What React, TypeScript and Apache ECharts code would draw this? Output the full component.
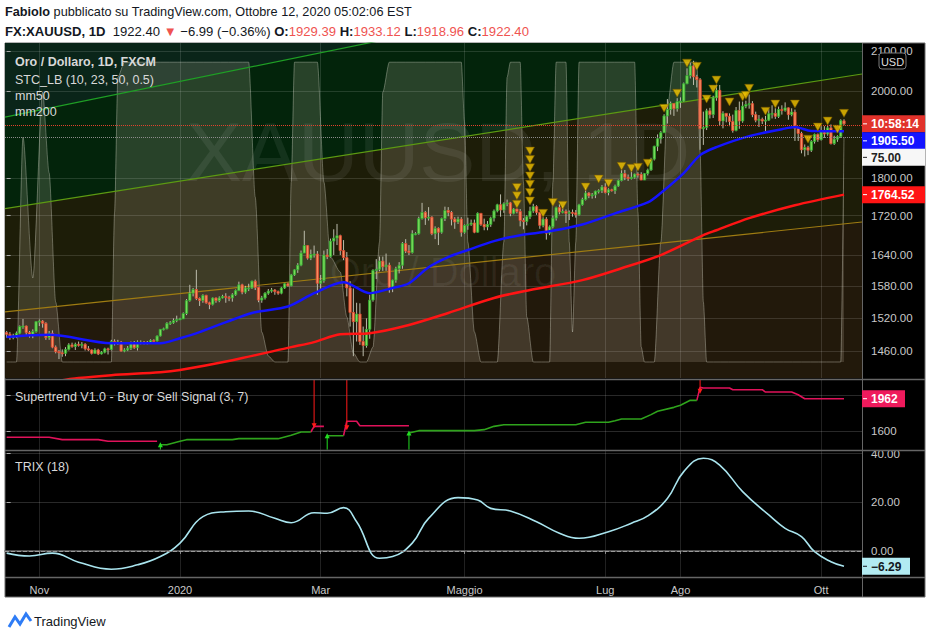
import React, { useEffect, useRef } from "react";
import * as echarts from "echarts";

// ---------- axes / ticks ----------
const monthTickIdx = [10, 53, 96, 140, 183, 206, 249];
const monthLabels = ["Nov", "2020", "Mar", "Maggio", "Lug", "Ago", "Ott"];
const priceTicks = [1460, 1520, 1580, 1640, 1720, 1800, 2000, 2100];
const priceRange = [1413.2, 2120.1];
const stcRange = [-5.34, 106.4];
const stRange = [1392, 2170];
const stGridTicks = [1600, 2000];
const stLabelTicks = [1600];
const trixRange = [-10.7, 41.07];
const trixGridTicks = [20, 40];
const trixLabelTicks = [0, 20, 40];

// ---------- daily candles [open, close, low, high], 18 Oct 2019 -> 12 Oct 2020 ----------
const ohlc: number[][] = [
  [1493, 1490, 1484, 1496], [1490, 1484, 1480, 1494], [1484, 1487, 1481, 1491], [1487, 1492, 1483, 1495],
  [1492, 1504, 1490, 1506], [1504, 1505, 1500, 1518], [1505, 1493, 1487, 1506], [1493, 1488, 1484, 1496],
  [1488, 1495, 1483, 1499], [1495, 1513, 1493, 1514], [1513, 1514, 1505, 1517], [1514, 1510, 1502, 1516],
  [1510, 1484, 1480, 1512], [1484, 1492, 1480, 1496], [1492, 1467, 1465, 1497], [1467, 1459, 1456, 1470],
  [1459, 1457, 1446, 1462], [1457, 1456, 1450, 1463], [1456, 1463, 1451, 1467], [1463, 1471, 1461, 1474],
  [1471, 1468, 1466, 1475], [1468, 1472, 1462, 1475], [1472, 1471, 1468, 1477], [1471, 1472, 1465, 1476],
  [1472, 1464, 1461, 1474], [1464, 1462, 1460, 1469], [1462, 1456, 1454, 1463], [1456, 1462, 1455, 1465],
  [1462, 1455, 1453, 1464], [1455, 1458, 1454, 1460], [1458, 1464, 1456, 1466], [1464, 1463, 1454, 1466],
  [1463, 1477, 1461, 1480], [1477, 1474, 1470, 1481], [1474, 1476, 1471, 1480], [1476, 1460, 1459, 1478],
  [1460, 1462, 1458, 1465], [1462, 1465, 1460, 1469], [1465, 1475, 1462, 1477], [1475, 1466, 1464, 1478],
  [1466, 1476, 1461, 1479], [1476, 1476, 1472, 1479], [1476, 1475, 1472, 1478], [1475, 1475, 1472, 1478],
  [1475, 1479, 1473, 1481], [1479, 1478, 1474, 1481], [1478, 1487, 1477, 1488], [1487, 1499, 1486, 1499],
  [1499, 1500, 1497, 1502], [1500, 1510, 1499, 1512], [1510, 1511, 1507, 1514], [1511, 1515, 1509, 1519],
  [1515, 1517, 1512, 1524], [1517, 1518, 1516, 1520], [1518, 1528, 1518, 1530], [1528, 1552, 1525, 1555],
  [1552, 1566, 1550, 1582], [1566, 1573, 1560, 1576], [1573, 1556, 1553, 1611], [1556, 1552, 1542, 1558],
  [1552, 1562, 1548, 1564], [1562, 1548, 1546, 1563], [1548, 1545, 1536, 1550], [1545, 1557, 1543, 1558],
  [1557, 1552, 1548, 1558], [1552, 1557, 1549, 1560], [1557, 1560, 1556, 1563], [1560, 1558, 1548, 1566],
  [1558, 1557, 1551, 1561], [1557, 1563, 1550, 1566], [1563, 1571, 1561, 1573], [1571, 1582, 1570, 1588],
  [1582, 1568, 1564, 1584], [1568, 1576, 1565, 1580], [1576, 1576, 1570, 1584], [1576, 1589, 1574, 1590],
  [1589, 1577, 1572, 1592], [1577, 1553, 1549, 1578], [1553, 1557, 1548, 1561], [1557, 1566, 1554, 1568],
  [1566, 1570, 1563, 1574], [1570, 1572, 1567, 1576], [1572, 1569, 1563, 1574], [1569, 1566, 1563, 1571],
  [1566, 1576, 1564, 1578], [1576, 1584, 1574, 1585], [1584, 1580, 1578, 1586], [1580, 1601, 1579, 1603],
  [1601, 1611, 1599, 1612], [1611, 1620, 1605, 1624], [1620, 1644, 1618, 1649], [1644, 1659, 1644, 1689],
  [1659, 1634, 1631, 1660], [1634, 1641, 1630, 1651], [1641, 1642, 1635, 1659], [1642, 1585, 1563, 1648],
  [1585, 1590, 1575, 1601], [1590, 1640, 1586, 1649], [1640, 1637, 1632, 1652], [1637, 1668, 1635, 1673],
  [1668, 1674, 1640, 1692], [1674, 1679, 1660, 1703], [1679, 1649, 1640, 1681], [1649, 1635, 1630, 1670],
  [1635, 1576, 1560, 1646], [1576, 1530, 1504, 1589], [1530, 1513, 1451, 1575], [1513, 1527, 1477, 1548],
  [1527, 1477, 1471, 1547], [1477, 1470, 1451, 1504], [1470, 1499, 1466, 1519], [1499, 1553, 1482, 1563],
  [1553, 1610, 1550, 1612], [1610, 1612, 1593, 1632], [1612, 1628, 1608, 1637], [1628, 1617, 1609, 1637],
  [1617, 1620, 1609, 1643], [1620, 1577, 1567, 1625], [1577, 1591, 1568, 1592], [1591, 1613, 1586, 1617],
  [1613, 1620, 1604, 1626], [1620, 1663, 1613, 1666], [1663, 1648, 1644, 1672], [1648, 1645, 1640, 1660],
  [1645, 1683, 1643, 1690], [1683, 1683, 1680, 1686], [1683, 1714, 1681, 1718], [1714, 1727, 1712, 1747],
  [1727, 1716, 1701, 1730], [1716, 1717, 1710, 1738], [1717, 1683, 1680, 1719], [1683, 1694, 1672, 1698],
  [1694, 1686, 1660, 1696], [1686, 1714, 1683, 1716], [1714, 1731, 1709, 1739], [1731, 1727, 1719, 1738],
  [1727, 1713, 1700, 1730], [1713, 1707, 1693, 1717], [1707, 1713, 1703, 1718], [1713, 1686, 1677, 1717],
  [1686, 1700, 1683, 1702], [1700, 1702, 1691, 1716], [1702, 1705, 1699, 1712], [1705, 1686, 1684, 1712],
  [1686, 1725, 1685, 1727], [1725, 1702, 1699, 1723], [1702, 1697, 1690, 1714], [1697, 1702, 1690, 1709],
  [1702, 1715, 1697, 1718], [1715, 1730, 1708, 1733], [1730, 1743, 1727, 1745], [1743, 1732, 1718, 1765],
  [1732, 1745, 1726, 1748], [1745, 1747, 1740, 1754], [1747, 1725, 1719, 1749], [1725, 1734, 1723, 1736],
  [1734, 1729, 1725, 1735], [1729, 1710, 1698, 1734], [1710, 1708, 1692, 1715], [1708, 1718, 1700, 1721],
  [1718, 1730, 1713, 1739], [1730, 1739, 1726, 1745], [1739, 1727, 1722, 1742], [1727, 1700, 1693, 1728],
  [1700, 1713, 1696, 1717], [1713, 1684, 1671, 1717], [1684, 1697, 1680, 1700], [1697, 1715, 1694, 1720],
  [1715, 1737, 1710, 1739], [1737, 1728, 1723, 1744], [1728, 1729, 1725, 1740], [1729, 1725, 1705, 1733],
  [1725, 1727, 1711, 1731], [1727, 1726, 1718, 1733], [1726, 1722, 1716, 1732], [1722, 1743, 1720, 1745],
  [1743, 1754, 1741, 1758], [1754, 1768, 1752, 1779], [1768, 1762, 1757, 1770], [1762, 1764, 1756, 1768],
  [1764, 1772, 1757, 1773], [1772, 1773, 1767, 1776], [1773, 1781, 1768, 1785], [1781, 1769, 1767, 1789],
  [1769, 1775, 1763, 1778], [1775, 1773, 1771, 1777], [1773, 1783, 1766, 1786], [1783, 1795, 1781, 1797],
  [1795, 1810, 1793, 1818], [1810, 1802, 1796, 1818], [1802, 1799, 1794, 1808], [1799, 1802, 1797, 1817],
  [1802, 1809, 1799, 1810], [1809, 1808, 1801, 1813], [1808, 1796, 1796, 1813], [1796, 1810, 1797, 1811],
  [1810, 1818, 1806, 1821], [1818, 1842, 1816, 1845], [1842, 1871, 1839, 1872], [1871, 1888, 1860, 1898],
  [1888, 1902, 1877, 1906], [1902, 1941, 1901, 1945], [1941, 1956, 1923, 1981], [1956, 1970, 1944, 1975],
  [1970, 1958, 1941, 1970], [1958, 1975, 1951, 1983], [1975, 1976, 1960, 1985], [1976, 2018, 1974, 2021],
  [2018, 2038, 2017, 2056], [2038, 2062, 2031, 2070], [2062, 2035, 2015, 2075], [2035, 2028, 2009, 2040],
  [2028, 1911, 1863, 2032], [1911, 1914, 1874, 1951], [1914, 1953, 1908, 1958], [1953, 1944, 1935, 1960],
  [1944, 1984, 1936, 1989], [1984, 2002, 1977, 2016], [2002, 1929, 1919, 2015], [1929, 1947, 1912, 1952],
  [1947, 1940, 1926, 1947], [1940, 1928, 1917, 1947], [1928, 1907, 1902, 1944], [1907, 1954, 1905, 1962],
  [1954, 1929, 1911, 1975], [1929, 1964, 1925, 1975], [1964, 1968, 1959, 1977], [1968, 1970, 1958, 1992],
  [1970, 1944, 1938, 1976], [1944, 1931, 1926, 1951], [1931, 1933, 1915, 1943], [1933, 1929, 1922, 1937],
  [1929, 1931, 1906, 1941], [1931, 1946, 1929, 1957], [1946, 1947, 1935, 1966], [1947, 1940, 1934, 1959],
  [1940, 1956, 1936, 1963], [1956, 1954, 1944, 1966], [1954, 1960, 1951, 1973], [1960, 1944, 1932, 1961],
  [1944, 1950, 1940, 1959], [1950, 1912, 1883, 1956], [1912, 1900, 1883, 1913], [1900, 1863, 1855, 1904],
  [1863, 1868, 1848, 1875], [1868, 1862, 1851, 1872], [1862, 1882, 1858, 1885], [1882, 1898, 1877, 1900],
  [1898, 1886, 1881, 1900], [1886, 1906, 1884, 1917], [1906, 1899, 1890, 1917], [1899, 1913, 1895, 1919],
  [1913, 1877, 1875, 1921], [1877, 1887, 1874, 1895], [1887, 1893, 1881, 1896], [1893, 1930, 1890, 1933],
  [1929.39, 1922.4, 1918.96, 1933.12],
];

// ---------- moving averages [barIndex, price] ----------
const mm50: number[][] = [
  [0, 1485], [13, 1489], [32, 1474], [47, 1474], [53, 1483], [59, 1494], [75, 1529], [86, 1541],
  [94, 1566], [103, 1587], [111, 1566], [118, 1576], [123, 1585], [129, 1616], [135, 1636], [141, 1650],
  [149, 1668], [157, 1680], [166, 1688], [176, 1702], [186, 1725], [196, 1748], [200, 1768], [207, 1811],
  [212, 1851], [217, 1869], [227, 1894], [237, 1910], [241, 1915], [246, 1906], [256, 1905.5],
];
const mm200: number[][] = [
  [0, 1398], [10, 1404], [22, 1413], [32, 1418], [47, 1423], [53, 1427], [69, 1444], [87, 1467],
  [94, 1476], [102, 1490], [111, 1492], [123, 1507], [135, 1529], [149, 1557], [160, 1572], [176, 1591],
  [188, 1614], [200, 1640], [213, 1680], [217, 1690], [227, 1715], [241, 1742], [256, 1764.52],
];

// ---------- trend lines [barIndex, price] ----------
const trendUpper: number[][] = [[-0.5, 1938], [261.5, 2395]];
const trendMiddle: number[][] = [[-0.5, 1735], [261.5, 2042]];
const trendLower: number[][] = [[-0.5, 1531], [261.5, 1707]];

// ---------- STC oscillator (0..100) ----------
const stc: number[][] = [
  [0, 0], [3, 0], [5, 75], [8, 28], [11, 90], [13, 63], [15, 20], [17, 0], [32, 0], [33, 50], [34, 95],
  [36, 100], [74, 100], [76, 55], [78, 10], [80, 2], [82, 0], [86, 0], [87, 60], [88, 100], [95, 100],
  [97, 60], [99, 35], [102, 30], [104, 15], [106, 3], [108, 0], [110, 0], [112, 5], [114, 40], [115, 90],
  [117, 100], [139, 100], [140, 80], [141, 40], [143, 10], [145, 0], [150, 0], [152, 40], [153, 95],
  [154, 100], [157, 100], [158, 60], [159, 15], [161, 0], [166, 0], [167, 60], [168, 100], [171, 100],
  [172, 40], [173, 10], [174, 40], [175, 100], [192, 100], [193, 50], [194, 5], [195, 0], [198, 0],
  [200, 40], [202, 85], [204, 100], [211, 100], [212, 70], [213, 20], [214, 0], [255, 0], [256, 75],
];
const stcLast = 75;

// ---------- STC signal triangles [barIndex, price] ----------
const signals: number[][] = [
  [156, 1744], [156, 1762], [156, 1780], [160, 1751], [160, 1769], [160, 1787], [160, 1805], [160, 1823],
  [160, 1841], [160, 1860], [164, 1725], [167, 1748], [170, 1742], [177, 1781], [181, 1798], [184, 1789],
  [188, 1826], [191, 1822], [193, 1824], [196, 1833], [201, 1959], [205, 1995], [208, 2069], [211, 2061],
  [214, 1981], [216, 2005], [217, 2027], [221, 1974], [225, 1986], [226, 1990], [227, 2007], [232, 1952],
  [235, 1969], [241, 1969], [245, 1887], [248, 1915], [251, 1929], [254, 1910], [256, 1947],
];

// ---------- Supertrend segments [barIndex, price] ----------
const stRedSegments: number[][][] = [
  [[0, 1533], [13, 1533], [17, 1507], [28, 1507], [31, 1489], [46, 1489]],
  [[93, 1592], [94, 1655], [97, 1655]],
  [[103, 1551], [104, 1711], [107, 1711], [108, 1662], [123, 1662]],
  [[211, 1944], [212, 2088], [213, 2081], [221, 2081], [222, 2062], [231, 2062], [232, 2036], [240, 2036],
    [242, 2006], [244, 1962], [256, 1962]],
];
const stGreenSegments: number[][][] = [
  [[47, 1451], [49, 1451], [53, 1489], [55, 1507], [69, 1507], [71, 1518], [83, 1518], [87, 1556],
    [90, 1592], [93, 1592]],
  [[98, 1551], [103, 1551]],
  [[123, 1581], [126, 1607], [143, 1607], [146, 1618], [149, 1655], [152, 1673], [174, 1673], [177, 1700],
    [184, 1700], [186, 1718], [188, 1737], [194, 1737], [197, 1785], [199, 1822], [204, 1866], [206, 1889],
    [209, 1944], [211, 1944]],
];
// [barIndex, from, to]
const stSellArrows: number[][] = [[94, 2170, 1662], [104, 2170, 1640], [212, 2170, 2045]];
const stBuyArrows: number[][] = [[47, 1396, 1451], [98, 1396, 1551], [123, 1396, 1581]];

// ---------- TRIX(18) ----------
const trix: number[][] = [
  [0, -0.9], [7, -2.1], [14, -0.9], [22, -4.6], [32, -7.5], [40, -5.7], [47, -2.3], [53, 3.2], [60, 14.1],
  [67, 16.1], [74, 16.4], [82, 13.4], [87, 11.6], [94, 15.7], [98, 15.5], [103, 17.8], [107, 12.0],
  [114, -3.0], [118, -2.3], [124, 3.2], [129, 13.4], [138, 21.9], [144, 20.9], [148, 17.5], [154, 16.4],
  [162, 12.0], [169, 7.3], [175, 5.2], [184, 7.9], [191, 11.4], [196, 14.4], [202, 21.6], [207, 32.6],
  [213, 38.1], [218, 35.3], [225, 24.4], [233, 14.8], [238, 9.3], [243, 5.9], [247, -0.3], [252, -4.4],
  [256, -6.29],
];

const lastPrice = 1922.4;
const countdown = "10:58:14";
const mm50Last = 1905.5;
const mm200Last = 1764.52;
const stLast = 1962;
const trixLast = -6.29;

const FONT = "'Liberation Sans', Arial, sans-serif";
const LN = Math.log;
const toLn = (a: number[][]) => a.map(([i, p]) => [i, LN(p)]);

function buildOption(): any {
  const xAxes = [0, 1, 2].map((g) => ({
    type: "value",
    gridIndex: g,
    min: -0.5,
    max: 261.5,
    z: 1,
    axisLine: { show: g === 2, lineStyle: { color: "#6a6a6a", width: 1.5 } },
    axisTick: { show: g === 2, customValues: monthTickIdx, length: 3, lineStyle: { color: "#8a8a8a" } },
    axisLabel: {
      show: g === 2,
      customValues: monthTickIdx,
      formatter: (v: number) => monthLabels[monthTickIdx.indexOf(Math.round(v))] ?? "",
      color: "#c8c8c8",
      fontSize: 11,
      fontFamily: FONT,
      margin: 7,
    },
    splitLine: { show: true, lineStyle: { color: "rgba(255,255,255,0.13)", width: 1 } },
  }));

  const yLabel = { color: "#c8c8c8", fontSize: 11.5, fontFamily: FONT, margin: 9 };
  const yAxes = [
    {
      type: "value", gridIndex: 0, position: "right", z: 1,
      min: LN(priceRange[0]), max: LN(priceRange[1]),
      axisLine: { show: false },
      axisTick: { show: true, customValues: priceTicks.map(LN), length: 4, lineStyle: { color: "#aaaaaa" } },
      axisLabel: { ...yLabel, customValues: priceTicks.map(LN), formatter: (v: number) => Math.exp(v).toFixed(2) },
      splitLine: { show: true, lineStyle: { color: "rgba(255,255,255,0.13)" } },
    },
    { type: "value", gridIndex: 0, min: stcRange[0], max: stcRange[1], show: false, splitLine: { show: false } },
    {
      type: "value", gridIndex: 1, position: "right", z: 1,
      min: stRange[0], max: stRange[1],
      axisLine: { show: false },
      axisTick: { show: true, customValues: stGridTicks, length: 4, lineStyle: { color: "#aaaaaa" } },
      axisLabel: { ...yLabel, customValues: stLabelTicks, formatter: (v: number) => String(Math.round(v)) },
      splitLine: { show: true, lineStyle: { color: "rgba(255,255,255,0.16)" } },
    },
    {
      type: "value", gridIndex: 2, position: "right", z: 1,
      min: trixRange[0], max: trixRange[1],
      axisLine: { show: false },
      axisTick: { show: true, customValues: trixGridTicks, length: 4, lineStyle: { color: "#aaaaaa" } },
      axisLabel: { ...yLabel, customValues: trixLabelTicks, formatter: (v: number) => v.toFixed(2) },
      splitLine: { show: true, lineStyle: { color: "rgba(255,255,255,0.16)" } },
    },
  ];

  const bg = (data: number[][], color: string, origin: string) => ({
    type: "line", xAxisIndex: 0, yAxisIndex: 0, data: toLn(data), symbol: "none", silent: true, z: 0,
    lineStyle: { width: 0, opacity: 0 }, areaStyle: { color, origin, opacity: 1 },
  });
  const trendLine = (data: number[][], color: string) => ({
    type: "line", xAxisIndex: 0, yAxisIndex: 0, data: toLn(data), symbol: "none", silent: true, z: 2,
    lineStyle: { width: 1.2, color },
  });

  const series: any[] = [
    bg(trendUpper, "#03240b", "start"),
    bg(trendMiddle, "#1d1d08", "start"),
    bg(trendLower, "#22190b", "start"),
    bg(trendUpper, "#0a2519", "end"),
    {
      type: "line", name: "STC", xAxisIndex: 0, yAxisIndex: 1, data: stc, symbol: "none", z: 0, silent: true,
      smooth: 0.25, smoothMonotone: "x",
      lineStyle: { color: "rgba(230,228,215,0.35)", width: 1 },
      areaStyle: { color: "rgba(235,225,200,0.23)" },
      markLine: {
        symbol: "none", silent: true, label: { show: false },
        lineStyle: { type: "dotted", color: "#8c8c8c", width: 1 },
        data: [{ yAxis: stcLast }],
      },
    },
    trendLine(trendUpper, "#1f9f25"),
    trendLine(trendMiddle, "#5c9a12"),
    trendLine(trendLower, "#9f7c12"),
    {
      type: "custom", name: "XAUUSD", xAxisIndex: 0, yAxisIndex: 0, z: 3, clip: true, silent: true,
      data: ohlc.map((d, i) => [i, LN(d[0]), LN(d[1]), LN(d[2]), LN(d[3])]),
      encode: { x: 0, y: [1, 2, 3, 4] },
      renderItem: (_p: any, api: any) => {
        const i = api.value(0);
        const o = api.value(1), c = api.value(2), l = api.value(3), h = api.value(4);
        const po = api.coord([i, o]);
        const pc = api.coord([i, c]);
        const pl = api.coord([i, l]);
        const ph = api.coord([i, h]);
        const w = api.size([1, 0])[0] * 0.72;
        const up = c >= o;
        const top = Math.min(po[1], pc[1]);
        const hh = Math.max(1, Math.abs(po[1] - pc[1]));
        return {
          type: "group",
          children: [
            { type: "line", shape: { x1: po[0], y1: ph[1], x2: po[0], y2: pl[1] }, style: { stroke: "#bdbdad", lineWidth: 1 } },
            {
              type: "rect",
              shape: { x: po[0] - w / 2, y: top, width: w, height: hh },
              style: { fill: up ? "#79dc5a" : "#f58d5f", stroke: up ? "#2fa62f" : "#de452f", lineWidth: 0.8 },
            },
          ],
        };
      },
    },
    {
      type: "line", name: "mm200", xAxisIndex: 0, yAxisIndex: 0, data: toLn(mm200), symbol: "none", z: 4,
      smooth: 0.3, lineStyle: { color: "#ff1414", width: 2.5 },
    },
    {
      type: "line", name: "mm50", xAxisIndex: 0, yAxisIndex: 0, data: toLn(mm50), symbol: "none", z: 4,
      smooth: 0.3, lineStyle: { color: "#1414ff", width: 2.5 },
      markLine: {
        symbol: "none", silent: true, label: { show: false },
        lineStyle: { type: "dotted", color: "#e2412c", width: 1 },
        data: [{ yAxis: LN(lastPrice) }],
      },
    },
    {
      type: "scatter", name: "signals", xAxisIndex: 0, yAxisIndex: 0, data: toLn(signals), z: 5,
      symbol: "triangle", symbolRotate: 180, symbolSize: [9, 8], silent: true,
      itemStyle: { color: "#f4c400", borderColor: "#6e5200", borderWidth: 0.7 },
    },
  ];

  stRedSegments.forEach((seg) =>
    series.push({
      type: "line", xAxisIndex: 1, yAxisIndex: 2, data: seg, symbol: "none", z: 3, silent: true,
      lineStyle: { color: "#e0125a", width: 1.6 },
    })
  );
  stGreenSegments.forEach((seg) =>
    series.push({
      type: "line", xAxisIndex: 1, yAxisIndex: 2, data: seg, symbol: "none", z: 3, silent: true,
      lineStyle: { color: "#2fa31c", width: 1.6 },
    })
  );
  stSellArrows.forEach(([i, a, b]) =>
    series.push({
      type: "line", xAxisIndex: 1, yAxisIndex: 2, z: 4, silent: true, showSymbol: true,
      data: [{ value: [i, a], symbol: "none" }, { value: [i, b], symbol: "triangle", symbolRotate: 180, symbolSize: 5 }],
      lineStyle: { color: "#ff1a1a", width: 1 }, itemStyle: { color: "#ff1a1a" },
    })
  );
  stBuyArrows.forEach(([i, a, b]) =>
    series.push({
      type: "line", xAxisIndex: 1, yAxisIndex: 2, z: 4, silent: true, showSymbol: true,
      data: [{ value: [i, a], symbol: "none" }, { value: [i, b], symbol: "triangle", symbolSize: 5 }],
      lineStyle: { color: "#22dd22", width: 1 }, itemStyle: { color: "#22dd22" },
    })
  );
  series.push({
    type: "line", name: "TRIX", xAxisIndex: 2, yAxisIndex: 3, data: trix, symbol: "none", z: 3, smooth: 0.45,
    silent: true, lineStyle: { color: "#a9e4ee", width: 1.6 },
    markLine: {
      symbol: "none", silent: true, label: { show: false },
      lineStyle: { type: "dashed", color: "#9a9a9a", width: 1 },
      data: [{ yAxis: 0 }],
    },
  });

  return {
    animation: false,
    backgroundColor: "#ffffff",
    textStyle: { fontFamily: FONT },
    grid: [
      { left: 5, right: 68, top: 43, height: 335 },
      { left: 5, right: 68, top: 380, height: 70 },
      { left: 5, right: 68, top: 451, height: 126 },
    ],
    xAxis: xAxes,
    yAxis: yAxes,
    series,
  };
}

function buildGraphics(chart: any): any[] {
  const py = (idx: number, v: number) => chart.convertToPixel({ yAxisIndex: idx }, v) as number;
  const g: any[] = [];
  const txt = (x: number, y: number, text: string, opts: any = {}) => ({
    type: "text", x, y, z: 100, silent: true,
    style: { text, fontFamily: FONT, fontSize: 12, fill: "#d8d8d8", verticalAlign: "middle", ...opts },
  });

  // frame + separators
  g.push({ type: "rect", z: -100, silent: true, shape: { x: 5, y: 43, width: 920, height: 554 }, style: { fill: "#000000", stroke: "#6b6b6b", lineWidth: 1 } });
  const sep = (x1: number, y1: number, x2: number, y2: number, w = 1.5) => ({
    type: "line", z: 90, silent: true, shape: { x1, y1, x2, y2 }, style: { stroke: "#666666", lineWidth: w },
  });
  g.push(sep(5, 379.5, 925, 379.5), sep(5, 450.5, 925, 450.5), sep(5, 577.5, 925, 577.5), sep(862.5, 43, 862.5, 597, 1));

  // watermark
  g.push({ type: "text", x: 438, y: 152, z: 1, silent: true, style: { text: "XAUUSD, 1D", fontFamily: FONT, fontSize: 84, fill: "rgba(255,255,255,0.07)", align: "center", verticalAlign: "middle" } });
  g.push({ type: "text", x: 443, y: 272, z: 1, silent: true, style: { text: "Oro / Dollaro", fontFamily: FONT, fontSize: 40, fill: "rgba(255,255,255,0.06)", align: "center", verticalAlign: "middle" } });

  // header
  const mk = (fs: number) => ({
    b: { fontFamily: FONT, fontSize: fs, fontWeight: "bold", fill: "#131722" },
    n: { fontFamily: FONT, fontSize: fs, fill: "#131722" },
    r: { fontFamily: FONT, fontSize: fs, fill: "#ef5350" },
  });
  g.push(txt(5, 12, "{b|Fabiolo}{n| pubblicato su TradingView.com, Ottobre 12, 2020 05:02:06 EST}", { rich: mk(12.7), fill: "#131722", fontSize: 12.7 }));
  g.push(txt(5, 31, "{b|FX:XAUUSD, 1D}{n|  1922.40 }{r|▼}{n| −6.99 (−0.36%) }{b|O:}{r|1929.39}{b| H:}{r|1933.12}{b| L:}{r|1918.96}{b| C:}{r|1922.40}", { rich: mk(13.1), fill: "#131722", fontSize: 13.1 }));

  // legends
  g.push(txt(15, 62, "Oro / Dollaro, 1D, FXCM", { fontWeight: "bold", fontSize: 12.5 }));
  g.push(txt(15, 80, "STC_LB (10, 23, 50, 0.5)", { fontSize: 12.5 }));
  g.push(txt(15, 96, "mm50", { fontSize: 12.5 }));
  g.push(txt(15, 112, "mm200", { fontSize: 12.5 }));
  g.push(txt(15, 397, "Supertrend V1.0 - Buy or Sell Signal (3, 7)", { fontSize: 12.5 }));
  g.push(txt(15, 467, "TRIX (18)", { fontSize: 12.5 }));

  // USD badge
  g.push({ type: "rect", z: 95, silent: true, shape: { x: 879, y: 53, width: 27, height: 16, r: 3 }, style: { fill: "#000", stroke: "#7a7a7a", lineWidth: 1 } });
  g.push(txt(892.5, 61.5, "USD", { align: "center", fontSize: 11, fill: "#dddddd" }));

  // price tags with stacking like the platform
  const tag = (cy: number, text: string, bgc: string, fg: string, w = 63) => {
    g.push({ type: "rect", z: 96, silent: true, shape: { x: 862, y: cy - 8.5, width: w, height: 17 }, style: { fill: bgc } });
    g.push({ type: "line", z: 97, silent: true, shape: { x1: 863, y1: cy, x2: 867, y2: cy }, style: { stroke: fg, lineWidth: 1 } });
    g.push(txt(871, cy + 0.5, text, { fill: fg, fontWeight: "bold", fontSize: 12 }));
  };
  const y1 = py(0, LN(lastPrice));
  const y2 = Math.max(py(0, LN(mm50Last)), y1 + 17);
  const y3 = Math.max(py(1, stcLast), y2 + 16.5);
  const y4 = py(0, LN(mm200Last));
  tag(y1, countdown, "#e1322b", "#ffffff");
  tag(y2, mm50Last.toFixed(2), "#1414ff", "#ffffff");
  tag(y3, stcLast.toFixed(2), "#f7f7f7", "#222222");
  tag(y4, mm200Last.toFixed(2), "#ff1414", "#ffffff");
  tag(py(2, stLast), String(stLast), "#ef1a5c", "#ffffff", 43);
  tag(py(3, trixLast), "−" + Math.abs(trixLast).toFixed(2), "#b2ebf2", "#131722", 48);

  // TradingView logo
  g.push({ type: "polyline", z: 100, silent: true, shape: { points: [[9, 627], [15, 617], [20, 624], [26, 614], [31, 621]] }, style: { stroke: "#2e7cf6", lineWidth: 3, fill: null } });
  g.push(txt(34, 621, "TradingView", { fill: "#131722", fontSize: 13 }));
  return g;
}

export default function App() {
  const ref = useRef<HTMLDivElement>(null);
  useEffect(() => {
    if (!ref.current) return;
    const chart = echarts.init(ref.current, null, { renderer: "svg" });
    chart.setOption(buildOption());
    chart.setOption({ graphic: buildGraphics(chart) });
    return () => chart.dispose();
  }, []);
  return <div ref={ref} style={{ position: "fixed", left: 0, top: 0, width: 930, height: 640 }} />;
}
